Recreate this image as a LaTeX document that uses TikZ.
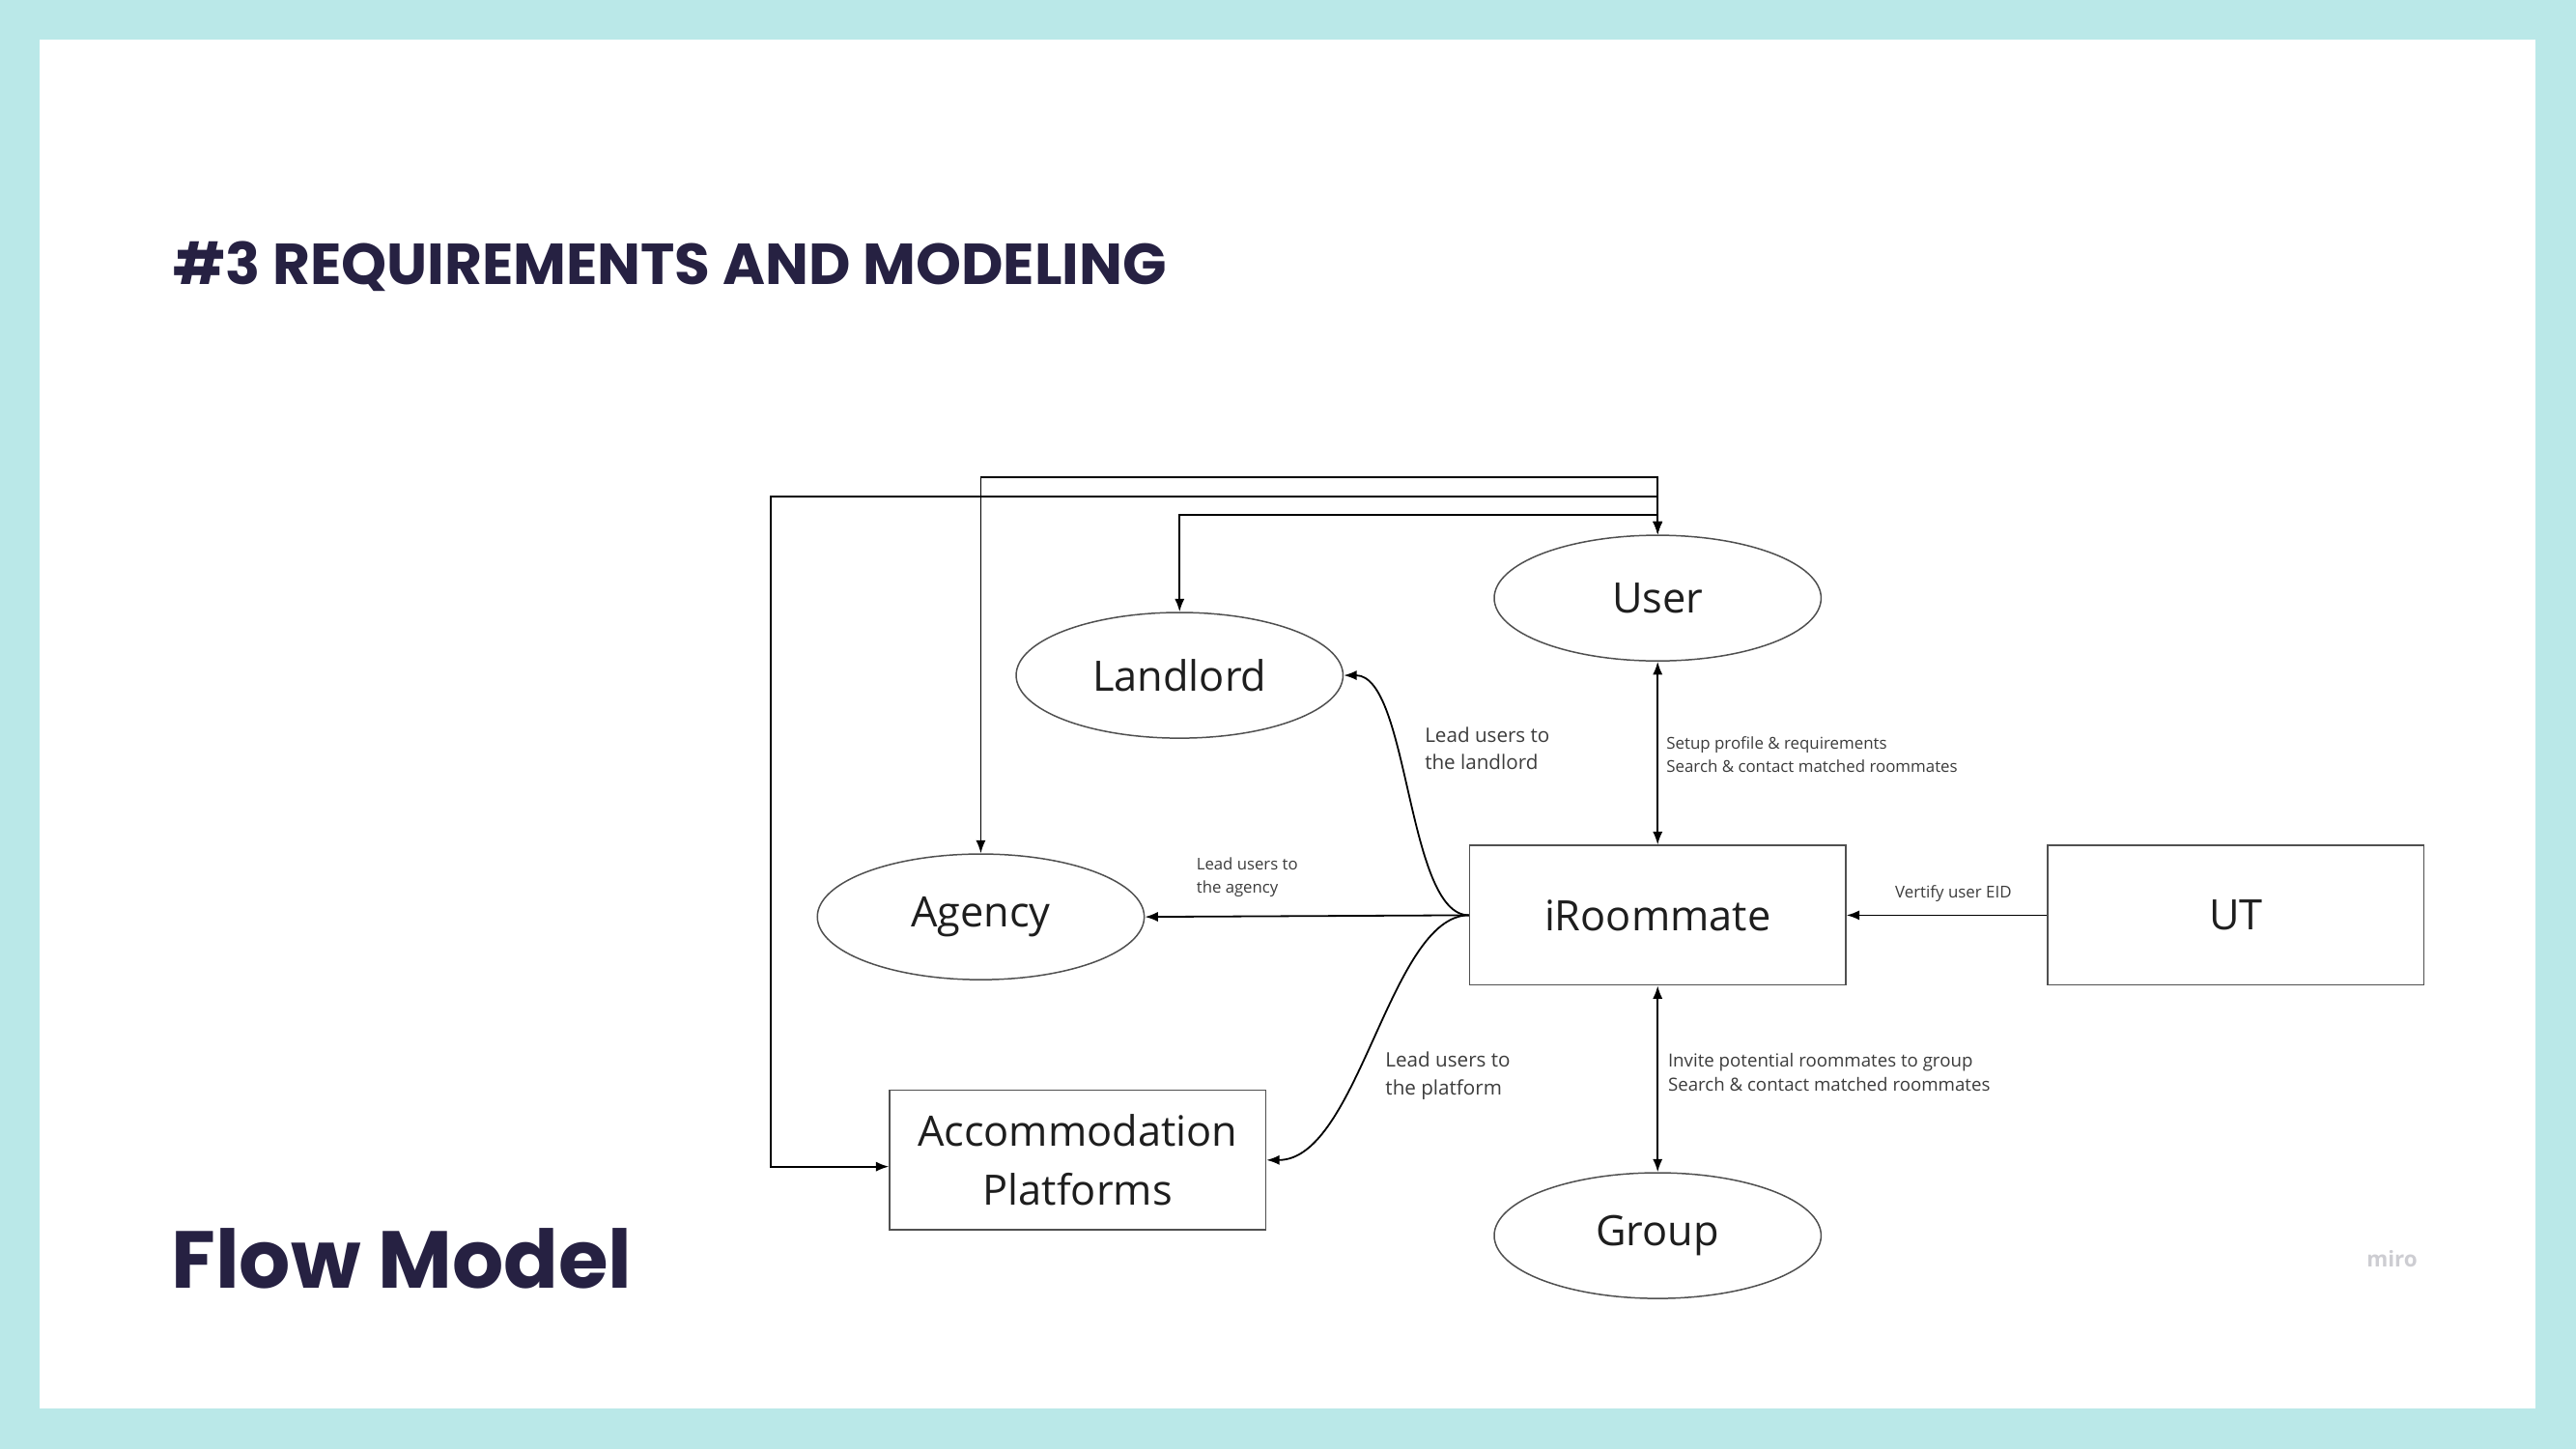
\documentclass[tikz,border=0pt]{standalone}
\usepackage{fontspec}
\setmainfont{Open Sans}
\newfontfamily\headfont{Poppins}
\usetikzlibrary{shapes.geometric, arrows.meta, positioning}
\definecolor{myframe}{RGB}{186,232,232}
\definecolor{mynavy}{RGB}{38,33,66}
\definecolor{mydark}{RGB}{30,30,30}
\definecolor{myedge}{RGB}{80,80,80}
\definecolor{mygrey}{RGB}{60,60,60}
\definecolor{mymiro}{RGB}{205,205,210}
\tikzset{
  procbox/.style={rectangle, draw=myedge, line width=0.5pt,
    minimum width=4.58cm, minimum height=1.7cm, align=center,
    font=\fontsize{14.5}{20.5}\selectfont, text=mydark},
  entity/.style={ellipse, draw=myedge, line width=0.5pt,
    minimum width=3.98cm, minimum height=1.53cm, inner sep=0pt,
    font=\fontsize{14.5}{20.5}\selectfont, text=mydark},
  flow/.style={-{Latex[length=4.5pt,width=3.4pt]}, line width=0.6pt, color=black},
  bothflow/.style={{Latex[length=4.5pt,width=3.4pt]}-{Latex[length=4.5pt,width=3.4pt]},
    line width=0.6pt, color=black},
  note/.style={font=\fontsize{5.65}{8}\selectfont, text=mygrey, align=left,
    inner sep=0pt, anchor=west},
  bignote/.style={note, font=\fontsize{6.9}{9.7}\selectfont}
}
\begin{document}
\begin{tikzpicture}[x=0.02cm, y=-0.02cm]

  % Frame
  \fill[myframe] (0,0) rectangle (1568,882);
  \fill[white] (24,24) rectangle (1543,857);

  % Headings
  \node[anchor=west, inner sep=0pt, text=mynavy, font=\headfont\bfseries\fontsize{20}{23}\selectfont] (title) at (105,162) {\#3 REQUIREMENTS AND MODELING};
  \node[anchor=west, inner sep=0pt, text=mynavy, font=\headfont\bfseries\fontsize{28}{32}\selectfont] (flowmodel) at (104,766) {Flow Model};
  \node[text=mymiro, font=\bfseries\fontsize{7.5}{9}\selectfont] (miro) at (1456,766) {miro};

  % Nodes
  \node[entity] (us) at (1009,364) {User};
  \node[entity] (ll) at (718,411) {Landlord};
  \node[entity] (ag) at (597,558) {Agency};
  \node[entity] (gr) at (1009,752) {Group};
  \node[procbox] (ir) at (1009,557) {iRoommate};
  \node[procbox] (ut) at (1361,557) {UT};
  \node[procbox] (ap) at (656,706) {Accommodation\\Platforms};
  \coordinate (bend) at (469,710);

  % Paths from User
  \draw[bothflow] (us.north) -- ++(0,-35) -| (ag.north);
  \draw[bothflow] (us.north) -- ++(0,-23) -| (bend) -- (bend -| ap.west);
  \draw[bothflow] (us.north) -- ++(0,-12) -| (ll.north);

  % Paths around iRoommate
  \draw[bothflow] (us.south) -- (ir.north);
  \draw[bothflow] (ir.south) -- (gr.north);
  \draw[flow] (ut.west) -- (ir.west -| ir.east);
  \draw[flow] (ir.west) -- (ag.east);
  \draw[flow] (ir.west) .. controls +(-38,0) and +(40,0) .. (ll.east);
  \draw[flow] (ir.west) .. controls +(-48,0) and +(56,0) .. (ap.east);

  % Labels
  \node[note] (setup) at (1014,459) {Setup profile \& requirements\\Search \& contact matched roommates};
  \node[note, font=\fontsize{6.25}{8.5}\selectfont] (invite) at (1015,652.5) {Invite potential roommates to group\\Search \& contact matched roommates};
  \node[note, anchor=center] (eid) at (1189,544) {Vertify user EID};
  \node[note, font=\fontsize{5.6}{8}\selectfont] (toagency) at (728,534) {Lead users to\\the agency};
  \node[bignote] (tolandlord) at (867,455.5) {Lead users to\\the landlord};
  \node[bignote] (toplatform) at (843,654.5) {Lead users to\\the platform};
\end{tikzpicture}
\end{document}
